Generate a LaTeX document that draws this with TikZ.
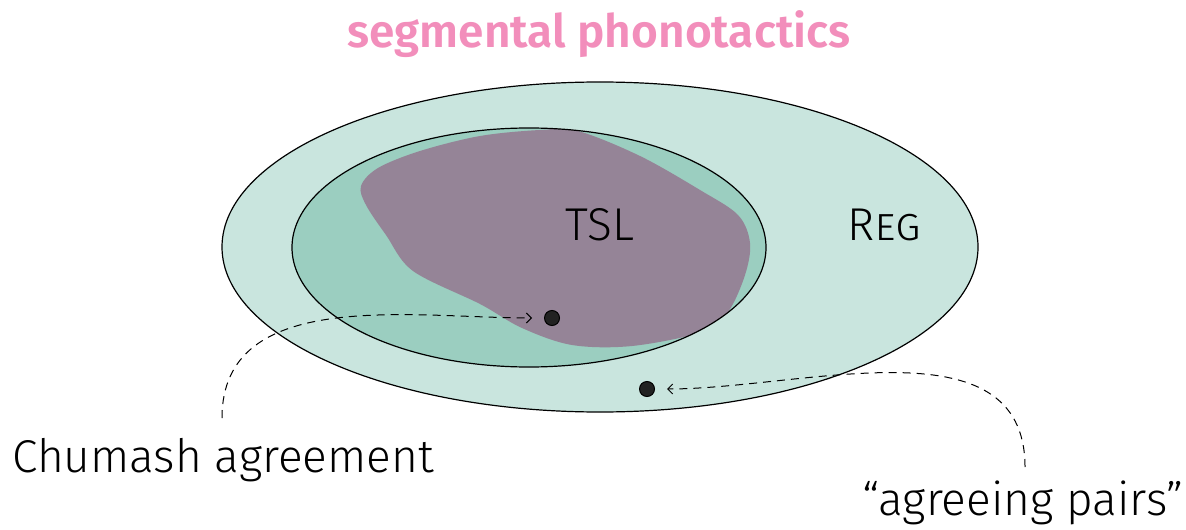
\documentclass[tikz,border=0pt]{standalone}
\usepackage{fontspec}
\setmainfont{Fira Sans}[UprightFont={* Light}, BoldFont={* SemiBold}]
\usetikzlibrary{arrows.meta}
\definecolor{outerfill}{HTML}{C9E5DE}
\definecolor{innerfill}{HTML}{9BCEC0}
\definecolor{blobfill}{HTML}{958497}
\definecolor{titlepink}{HTML}{F28EBB}
\definecolor{dotfill}{HTML}{222222}
\begin{document}
\begin{tikzpicture}[x=0.5pt,y=-0.5pt,
  lbl/.style={font=\fontsize{23}{28}\selectfont, anchor=base, inner sep=0pt},
  setline/.style={draw=black, line width=0.6pt},
  dotnode/.style={circle, draw=black, line width=0.5pt, fill=dotfill, minimum size=7.5pt, inner sep=0pt},
  pointer/.style={dashed, dash pattern=on 4pt off 3pt, line width=0.5pt, -{Straight Barb[length=2.5pt,width=5pt]}, shorten >=6pt}]
\useasboundingbox (0,0) rectangle (1186,529);
% outer set
\path[fill=outerfill, setline] (600,247) ellipse [x radius=189pt, y radius=82.5pt];
% inner set
\path[fill=innerfill] (529,247.5) ellipse [x radius=118.5pt, y radius=59.75pt];
\begin{scope}
  \clip (529,247.5) ellipse [x radius=118.5pt, y radius=59.75pt];
  \fill[blobfill] plot[smooth cycle, tension=0.55] coordinates {
    (361,186) (378,168) (420,151) (480,136) (540,130) (578,131) (640,156)
    (700,190) (738,215) (750,243) (745,275) (728,312) (702,332)
    (632,346) (572,345) (522,328) (480,304) (413,271) (386,235) (366,205)};
\end{scope}
\path[setline] (529,247.5) ellipse [x radius=118.5pt, y radius=59.75pt];
% labels
\node[lbl, font=\fontsize{23}{28}\selectfont\bfseries, text=titlepink] (title) at (599,48) {segmental phonotactics};
\node[lbl] (tsl) at (600,240) {TSL};
\node[lbl] (reg) at (884,240) {\textsc{Reg}};
\node[lbl] (chumash) at (223,472) {Chumash agreement};
\node[lbl] (pairs) at (1023,515) {“agreeing pairs”};
% points
\node[dotnode] (d1) at (552,318) {};
\node[dotnode] (d2) at (647,389) {};
% pointers
\coordinate (c1) at (222,418);
\coordinate (c2) at (1025,467);
\draw[pointer] (c1) to[out=90, in=180] (d1);
\draw[pointer] (c2) to[out=90, in=0] (d2);
\end{tikzpicture}
\end{document}
